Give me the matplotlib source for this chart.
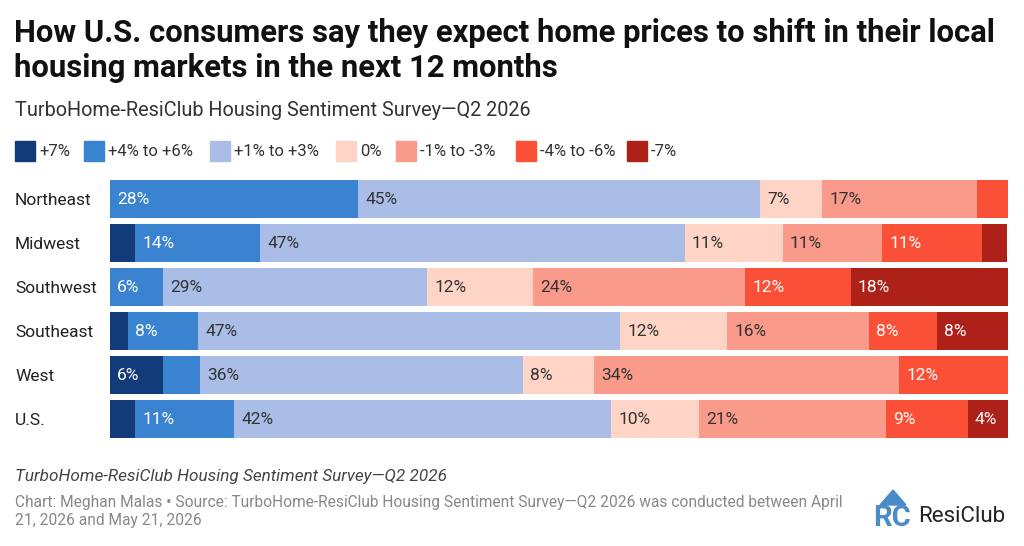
import matplotlib
matplotlib.use("Agg")
import matplotlib.pyplot as plt
from matplotlib.patches import Rectangle, Polygon
import numpy as np

plt.rcParams['font.family'] = ['Roboto', 'DejaVu Sans']

# Dados (percentuais)
regioes = ['Northeast', 'Midwest', 'Southwest', 'Southeast', 'West', 'U.S.']
faixas = ['+7%', '+4% to +6%', '+1% to +3%', '0%', '-1% to -3%', '-4% to -6%', '-7%']
mais7 = [0, 2.8, 0, 2.0, 5.9, 2.8]
mais4a6 = [27.6, 13.9, 5.9, 7.8, 4.1, 11.0]
mais1a3 = [44.8, 47.3, 29.4, 47.0, 36.0, 42.0]
zero = [6.9, 10.9, 11.8, 11.9, 7.9, 9.8]
menos1a3 = [17.3, 11.1, 23.6, 15.8, 34.0, 20.8]
menos4a6 = [3.5, 11.1, 11.8, 7.6, 12.1, 9.1]
menos7 = [0, 2.8, 17.5, 7.9, 0, 4.5]

series = [mais7, mais4a6, mais1a3, zero, menos1a3, menos4a6, menos7]
cores = ['#123b7a', '#3a83d1', '#a9bde6', '#fdd4c5', '#fa9a8b', '#fb5038', '#ae2119']
texto_cor = ['white', 'white', '#333333', '#333333', '#333333', 'white', 'white']

W, H = 1024, 546
fig = plt.figure(figsize=(W / 100, H / 100), dpi=100)

def fx(px):
    return px / W

def fy(py):
    return 1 - py / H

# Titulos
fig.text(fx(14), fy(33), 'How U.S. consumers say they expect home prices to shift in their local',
         fontsize=22.3, fontweight='bold', color='#111111', va='center', ha='left')
fig.text(fx(14), fy(68), 'housing markets in the next 12 months',
         fontsize=22.3, fontweight='bold', color='#111111', va='center', ha='left')
fig.text(fx(15), fy(110), 'TurboHome-ResiClub Housing Sentiment Survey\u2014Q2 2026',
         fontsize=14.3, color='#333333', va='center', ha='left')

# Legenda manual
leg_x = [15, 84, 210, 336, 396, 516, 627]
for x, cor, nome in zip(leg_x, cores, faixas):
    fig.patches.append(Rectangle((fx(x), fy(161)), fx(20), 20 / H, color=cor,
                                 transform=fig.transFigure, figure=fig))
    fig.text(fx(x + 24), fy(151), nome, fontsize=12, color='#333333', va='center', ha='left')

# Barras
ax = fig.add_axes([fx(110), fy(441), fx(1008) - fx(110), 264 / H])
y = np.arange(len(regioes))
esquerda = np.zeros(len(regioes))
for vals, cor, tc in zip(series, cores, texto_cor):
    vals = np.array(vals)
    ax.barh(y, vals, left=esquerda, color=cor, height=0.865, linewidth=0)
    for i, v in enumerate(vals):
        if v >= 4.3:
            ax.text(esquerda[i] + 0.8, y[i], f'{round(v)}%', color=tc, fontsize=12.5,
                    va='center', ha='left')
    esquerda += vals

ax.set_xlim(0, 100)
ax.set_ylim(len(regioes) - 0.5, -0.5)
ax.set_yticks(y)
ax.set_yticklabels(regioes, fontsize=12.5, color='#222222')
for lbl in ax.get_yticklabels():
    lbl.set_horizontalalignment('left')
ax.tick_params(axis='y', length=0, pad=(110 - 15) * 0.72)
ax.set_xticks([])
for s in ax.spines.values():
    s.set_visible(False)

# Rodape
fig.text(fx(15), fy(477), 'TurboHome-ResiClub Housing Sentiment Survey\u2014Q2 2026',
         fontsize=12.3, style='italic', color='#444444', va='center', ha='left')
fig.text(fx(15), fy(503), 'Chart: Meghan Malas \u2022 Source: TurboHome-ResiClub Housing Sentiment Survey\u2014Q2 2026 was conducted between April',
         fontsize=11.2, color='#888888', va='center', ha='left')
fig.text(fx(15), fy(521), '21, 2026 and May 21, 2026',
         fontsize=11.2, color='#888888', va='center', ha='left')

# Logo
fig.patches.append(Polygon([[fx(880), fy(505)], [fx(893), fy(490)], [fx(906), fy(505)]],
                           closed=True, color='#4a8cc7', transform=fig.transFigure, figure=fig))
fig.text(fx(892), fy(518), 'RC', fontsize=21, fontweight='bold', color='#4a8cc7',
         va='center', ha='center')
fig.text(fx(918), fy(516), 'ResiClub', fontsize=16, color='#222222', va='center', ha='left')

fig.savefig('out.png', dpi=100, facecolor='white')
